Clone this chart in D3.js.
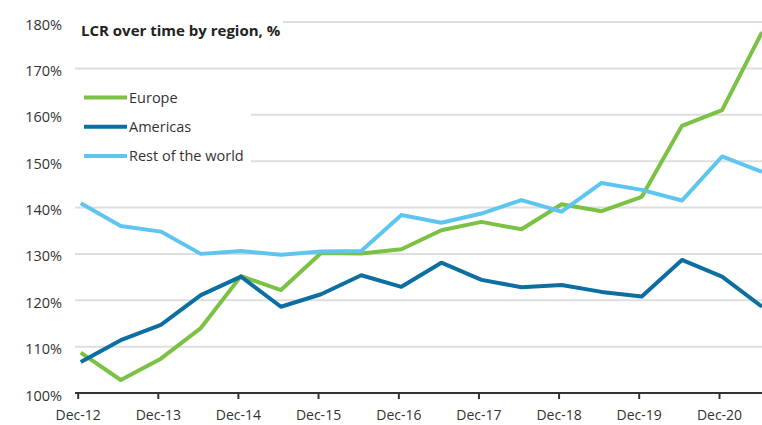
<!DOCTYPE html>
<html>
<head>
<meta charset="utf-8">
<script src="https://cdn.jsdelivr.net/npm/d3@7"></script>
<style>
  html, body { margin: 0; padding: 0; background: #fff; }
  svg { display: block; }
</style>
</head>
<body>
<svg id="chart" width="762" height="425"></svg>
<script>
// ---- data ----
const periods = ["Dec-12","Jun-13","Dec-13","Jun-14","Dec-14","Jun-15","Dec-15","Jun-16","Dec-16",
                 "Jun-17","Dec-17","Jun-18","Dec-18","Jun-19","Dec-19","Jun-20","Dec-20","Jun-21"];
const europe   = [108.7,102.8,107.4,114.0,125.2,122.2,130.2,130.1,131.0,135.1,136.9,135.3,140.7,139.2,142.3,157.6,161.0,177.8];
const americas = [106.7,111.4,114.7,121.1,125.1,118.6,121.3,125.4,122.9,128.1,124.4,122.8,123.3,121.8,120.8,128.7,125.1,118.6];
const rest     = [140.9,136.0,134.8,130.0,130.6,129.8,130.5,130.6,138.4,136.7,138.7,141.6,139.1,145.3,143.8,141.5,151.0,147.7];
const seriesNames = ["Europe","Americas","Rest of the world"];
const tickLabels = ["Dec-12","Dec-13","Dec-14","Dec-15","Dec-16","Dec-17","Dec-18","Dec-19","Dec-20"];
const yTicks = [100,110,120,130,140,150,160,170,180];
const title = "LCR over time by region, %";

// ---- helpers ----
const monthIdx = {Jan:0,Feb:1,Mar:2,Apr:3,May:4,Jun:5,Jul:6,Aug:7,Sep:8,Oct:9,Nov:10,Dec:11};
function pointDate(lbl){ const [m,y]=lbl.split("-"); return new Date(2000+ +y, monthIdx[m], 15); }
function tickDate(lbl){ const [m,y]=lbl.split("-"); return new Date(2000+ +y, monthIdx[m], 1); }

const colors = ["#7bc144","#0d6fa1","#5ec6ee"];
const series = [europe, americas, rest].map((vals,i)=>({
  name: seriesNames[i], color: colors[i],
  values: vals.map((v,j)=>({date: pointDate(periods[j]), value: v}))
}));

const svg = d3.select("#chart");
const font = "'Open Sans', 'DejaVu Sans', sans-serif";

const x = d3.scaleTime()
  .domain([tickDate("Dec-12"), tickDate("Dec-20")])
  .range([77.7, 719]);
const y = d3.scaleLinear().domain([100,180]).range([393, 22]);

// gridlines
svg.append("g").selectAll("line").data(yTicks.filter(d=>d>100)).join("line")
  .attr("x1", 75).attr("x2", 762)
  .attr("y1", d=>y(d)).attr("y2", d=>y(d))
  .attr("stroke", "#dedede").attr("stroke-width", 2);

// y labels
svg.append("g").selectAll("text").data(yTicks).join("text")
  .attr("x", 62).attr("y", d=>y(d)+2)
  .attr("text-anchor","end").attr("dominant-baseline","central")
  .attr("font-family", font).attr("font-size", 14.5).attr("fill", "#333")
  .text(d=>d+"%");

// lines
const line = d3.line().x(d=>x(d.date)).y(d=>y(d.value));
svg.append("g").selectAll("path").data(series).join("path")
  .attr("d", d=>line(d.values))
  .attr("fill","none").attr("stroke", d=>d.color)
  .attr("stroke-width", 4).attr("stroke-linejoin","round");

// x axis
const xAxis = d3.axisBottom(x)
  .tickValues(tickLabels.map(tickDate))
  .tickFormat((d,i)=>tickLabels[i])
  .tickSize(6).tickPadding(11);
const gx = svg.append("g").attr("transform", `translate(0,${y(100)})`).call(xAxis);
gx.select(".domain").attr("d", `M75,0H762`).attr("stroke","#333").attr("stroke-width",2);
gx.selectAll(".tick line").attr("stroke","#333").attr("stroke-width",2);
gx.selectAll(".tick text").attr("font-family", font).attr("font-size", 14).attr("fill","#333");

// title with white background
svg.append("rect").attr("x",75).attr("y",14).attr("width",208).attr("height",30).attr("fill","#fff");
svg.append("text").attr("x",81).attr("y",30).attr("dominant-baseline","central")
  .attr("font-family", font).attr("font-weight","bold").attr("font-size",15).attr("fill","#222")
  .text(title);

// legend with white background
svg.append("rect").attr("x",75).attr("y",80).attr("width",176).attr("height",92).attr("fill","#fff");
const lg = svg.append("g").selectAll("g").data(series).join("g")
  .attr("transform",(d,i)=>`translate(0,${97.5 + i*29.2})`);
lg.append("line").attr("x1",84).attr("x2",127).attr("y1",0).attr("y2",0)
  .attr("stroke",d=>d.color).attr("stroke-width",4);
lg.append("text").attr("x",129).attr("y",0).attr("dominant-baseline","central")
  .attr("font-family", font).attr("font-size",14.5).attr("fill","#333")
  .text(d=>d.name);
</script>
</body>
</html>
